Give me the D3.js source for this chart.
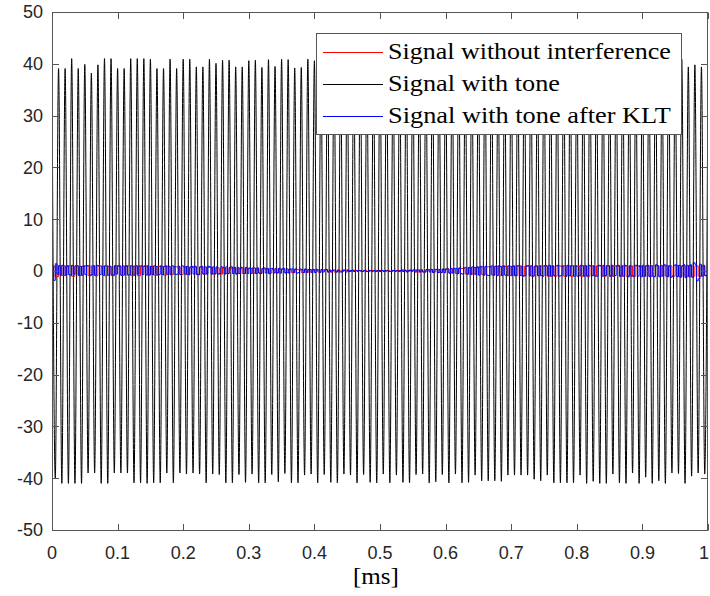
<!DOCTYPE html>
<html>
<head>
<meta charset="utf-8">
<script src="https://cdn.jsdelivr.net/npm/d3@7/dist/d3.min.js"></script>
<style>
  html, body { margin: 0; padding: 0; background: #fff; }
  svg { display: block; }
</style>
</head>
<body>
<svg id="chart" width="710" height="596"></svg>
<script>
// ---------------- DATA ----------------
const xTicks = [0, 0.1, 0.2, 0.3, 0.4, 0.5, 0.6, 0.7, 0.8, 0.9, 1];
const xTickLabels = ["0", "0.1", "0.2", "0.3", "0.4", "0.5", "0.6", "0.7", "0.8", "0.9", "1"];
const yTicks = [-50, -40, -30, -20, -10, 0, 10, 20, 30, 40, 50];
const yTickLabels = ["-50", "-40", "-30", "-20", "-10", "0", "10", "20", "30", "40", "50"];
const xLabel = "[ms]";
const seriesNames = ["Signal without interference", "Signal with tone", "Signal with tone after KLT"];

// Tone: one maximum per cycle (cycle period 0.01 ms), max at start of cycle, min at mid-cycle
const tonePeriod = 0.01;
const tonePeaks = [
  39.1, 39.1, 39.1, 41.0, 39.1, 39.9, 38.2, 39.8, 41.0, 41.0,
  39.1, 39.1, 41.0, 41.0, 41.0, 40.9, 39.1, 39.1, 40.9, 39.1,
  40.9, 40.9, 39.4, 39.4, 40.9, 40.1, 40.7, 40.7, 39.4, 39.4,
  40.6, 40.7, 39.3, 40.8, 39.5, 40.9, 40.8, 39.2, 39.3, 40.9,
  40.6, 39.4, 40.9, 40.9, 39.2, 40.7, 39.9, 40.8, 39.3, 39.4,
  40.9, 40.9, 39.2, 39.6, 40.8, 40.9, 39.3, 40.1, 40.8, 39.4,
  39.2, 40.9, 40.8, 39.3, 40.9, 39.4, 40.7, 40.9, 39.2, 39.5,
  40.9, 39.3, 40.8, 40.6, 39.2, 40.9, 39.5, 40.9, 40.8, 39.3,
  39.2, 40.9, 40.9, 39.4, 40.7, 39.2, 40.9, 40.8, 39.3, 39.4,
  40.9, 39.6, 40.8, 39.2, 40.9, 39.3, 40.9, 39.4, 39.8, 39.4,
  40.7
];
const toneTroughs = [
  -40.0, -41.0, -41.0, -41.0, -41.0, -39.0, -39.0, -41.0, -41.0, -39.0,
  -39.0, -39.0, -40.9, -40.9, -41.0, -40.9, -40.9, -39.0, -40.9, -39.0,
  -39.2, -39.0, -39.2, -40.9, -39.2, -39.3, -40.9, -40.9, -39.3, -40.8,
  -39.2, -40.9, -40.9, -39.3, -40.7, -39.1, -40.9, -40.9, -39.4, -39.2,
  -40.9, -39.3, -40.8, -40.9, -39.2, -39.4, -40.9, -39.3, -40.8, -40.9,
  -39.2, -40.9, -39.4, -40.8, -40.9, -39.3, -39.2, -40.9, -40.7, -39.3,
  -40.9, -39.2, -40.9, -40.8, -39.4, -40.5, -40.5, -40.5, -40.6, -39.4,
  -39.4, -39.4, -39.4, -40.2, -40.5, -39.4, -40.9, -40.9, -40.9, -40.9,
  -39.4, -41.0, -40.6, -41.0, -41.0, -39.2, -40.9, -41.0, -39.0, -41.0,
  -39.8, -41.0, -40.5, -41.0, -39.0, -39.1, -41.0, -39.6, -39.0, -39.2
];

// Clean baseband signal, one level per 0.005 ms step
const cleanStep = 0.005;
const cleanSignal = [
  0.9, -1.1, 1.0, -0.9, 0.9, 1.0, -1.0, 1.0, -0.9, 0.9,
  1.0, -0.9, 1.0, -0.9, 1.0, 0.9, -0.9, 0.9, -0.9, 1.0,
  1.0, -0.9, 0.9, 1.0, -0.9, 1.0, -0.9, 0.9, 1.0, -0.8,
  0.9, -0.8, 0.9, 0.8, -0.8, 0.9, -0.7, 0.8, 0.8, -0.7,
  0.8, -0.7, 0.7, 0.8, -0.7, 0.7, -0.6, 0.7, 0.7, -0.6,
  0.6, -0.6, 0.6, -0.5, 0.5, 0.6, -0.5, 0.5, -0.5, 0.4,
  0.5, -0.4, 0.4, -0.4, 0.4, 0.4, -0.4, 0.3, -0.3, 0.4,
  0.3, -0.3, 0.3, -0.3, 0.3, 0.2, -0.3, 0.2, -0.2, 0.2,
  0.2, -0.2, 0.2, 0.2, -0.2, 0.1, -0.2, 0.1, -0.1, 0.2,
  0.1, -0.1, 0.1, 0.1, -0.1, 0.1, -0.1, 0.1, 0.1, -0.1,
  0.1, -0.1, 0.1, -0.1, 0.1, 0.1, -0.1, 0.2, -0.1, 0.1,
  0.2, -0.2, 0.2, -0.2, 0.2, 0.3, -0.2, 0.3, -0.3, 0.3,
  0.4, -0.4, 0.4, -0.5, 0.5, 0.5, -0.6, 0.6, -0.6, 0.7,
  0.7, -0.7, 0.8, 0.8, -0.8, 0.9, -0.8, 0.9, 0.9, -0.9,
  0.9, -0.9, 1.0, -0.9, 0.9, 1.0, -1.0, 0.9, -0.9, 1.0,
  1.0, -1.0, 0.9, -1.0, 1.0, 0.9, -1.0, 1.0, -1.0, 1.0,
  0.9, -1.0, 1.0, -1.0, 1.0, -0.9, 1.0, 1.0, -1.0, 1.0,
  -1.0, 1.0, 0.9, -1.0, 1.0, -1.0, 1.0, -1.0, 1.0, 0.9,
  -1.0, 1.0, -1.0, 1.0, 1.0, -1.0, 1.0, -1.0, 1.0, -1.0,
  1.0, -1.0, 1.0, -1.0, 1.0, -1.0, 1.0, -1.0, 1.0, -0.9
];
// KLT output, one level per 0.0025 ms step
const kltStep = 0.0025;
const kltSignal = [
  1.0, -1.8, 1.4, -0.6, 1.0, -0.8, 1.1, 1.0, -0.8, 1.0, -0.7, -0.8, 1.1, -0.6, 1.0, 1.0, -0.8, 0.9, -0.8, 1.0,
  -0.7, 1.0, 1.0, -0.8, -0.7, 1.0, -0.8, 1.1, 1.0, -0.7, 0.9, -0.8, 1.0, 1.0, -0.8, 0.9, -0.7, -0.8, 1.0, -0.6,
  1.0, 0.9, -0.8, 1.0, -0.7, 1.0, -0.8, -0.7, 1.0, 0.9, -0.8, 1.0, -0.6, 1.0, 1.0, -0.7, 0.9, -0.8, 1.0, -0.7,
  0.9, -0.7, 1.0, 0.9, -0.8, -0.7, 1.0, -0.7, 0.9, 1.0, -0.6, 0.9, -0.7, 1.0, 0.9, -0.7, -0.6, 0.9, -0.7, 1.0,
  0.9, -0.6, 0.9, -0.7, 0.8, 0.9, -0.6, 0.9, -0.6, -0.7, 0.8, 0.9, -0.6, 0.8, -0.6, 0.9, 0.8, -0.6, 0.8, -0.5,
  0.8, -0.6, -0.5, 0.8, 0.7, -0.6, 0.8, -0.5, 0.7, 0.8, -0.5, 0.7, -0.6, 0.7, -0.5, 0.7, 0.6, -0.5, 0.7, -0.5,
  0.6, -0.5, 0.6, 0.6, -0.5, 0.6, -0.4, -0.5, 0.5, 0.6, -0.4, 0.5, -0.5, 0.5, 0.5, -0.4, 0.5, -0.4, 0.5, -0.4,
  0.4, 0.5, -0.4, 0.4, -0.4, 0.4, 0.4, -0.3, 0.4, -0.4, -0.3, 0.4, 0.3, -0.3, 0.4, -0.3, 0.3, 0.3, -0.3, 0.3,
  -0.3, 0.3, 0.2, -0.3, 0.3, -0.2, 0.2, 0.3, -0.2, 0.2, -0.2, 0.2, 0.2, -0.2, 0.2, -0.2, -0.2, 0.2, 0.1, -0.2,
  0.2, -0.1, 0.1, 0.2, -0.1, 0.1, -0.1, 0.1, 0.1, -0.1, 0.1, -0.1, -0.1, 0.1, 0.1, -0.1, 0.1, -0.1, 0.1, 0.1,
  -0.1, 0.1, -0.1, 0.1, 0.1, -0.1, -0.1, 0.1, 0.1, -0.1, 0.1, -0.1, 0.1, 0.2, -0.1, 0.1, -0.2, 0.1, 0.2, -0.1,
  0.2, -0.2, 0.2, 0.2, -0.2, 0.2, -0.2, -0.2, 0.3, 0.2, -0.2, 0.3, -0.3, 0.3, 0.3, -0.3, 0.3, -0.3, 0.4, -0.3,
  0.4, 0.4, -0.4, 0.5, -0.4, 0.5, 0.5, -0.5, 0.6, -0.5, -0.6, 0.6, 0.7, -0.6, 0.7, -0.7, 0.8, 0.7, -0.7, 0.8,
  -0.8, 0.9, 0.8, -0.8, 0.9, -0.8, -0.9, 0.9, 1.0, -0.8, 0.9, -0.9, 1.0, 0.9, -0.9, 1.0, -0.8, -0.9, 1.0, 0.9,
  -0.9, 1.0, -0.9, 1.0, 1.0, -0.9, 0.9, -1.0, -0.9, 1.0, 1.0, -0.9, 1.0, -1.0, 0.9, 1.0, -0.9, 1.0, -0.9, -1.0,
  1.0, 1.0, -0.9, 1.1, -1.0, 1.0, -0.9, 1.0, 1.1, -1.0, -0.9, 1.0, 1.0, -1.0, 1.1, -0.9, 1.0, 1.0, -1.0, 1.0,
  -1.0, -0.9, 1.1, 1.0, -1.0, 1.0, -1.0, 1.1, 1.0, -0.9, 1.0, -1.0, -1.0, 1.1, 1.0, -1.0, 1.1, -0.9, 1.0, 1.0,
  -1.0, 1.1, -1.0, -0.9, 1.0, 1.1, -1.0, 1.0, -1.0, 1.1, 1.0, -1.1, 1.0, -1.0, -1.0, 1.1, 1.1, -1.0, 1.0, -1.1,
  1.1, -1.0, 1.0, 1.1, -1.1, 1.0, -1.0, -1.1, 1.2, 1.0, -1.1, 1.1, -1.0, 1.2, 1.1, -1.1, 1.0, -1.2, -1.0, 1.1,
  1.2, -1.1, 1.1, -1.2, 1.0, 1.2, -1.3, 1.1, -1.1, 1.2, -1.2, 1.6, 1.3, -1.9, -1.5, 1.3, -1.0, 1.1, -0.9, -0.8
];

// ---------------- LAYOUT ----------------
const svg = d3.select("#chart");
const W = 710, H = 596;
const m = { left: 52, right: 2, top: 12, bottom: 66 };
const x = d3.scaleLinear().domain([0, 1]).range([m.left, W - m.right]);
const y = d3.scaleLinear().domain([-50, 50]).range([H - m.bottom, m.top]);
const axisColor = "#262626";

svg.append("rect").attr("width", W).attr("height", H).attr("fill", "#fff");

svg.append("defs").append("clipPath").attr("id", "clip")
  .append("rect").attr("x", m.left).attr("y", m.top)
  .attr("width", W - m.left - m.right).attr("height", H - m.top - m.bottom);

// Tone points
const tonePts = [];
tonePeaks.forEach((v, k) => {
  tonePts.push([k * tonePeriod, v]);
  if (k < toneTroughs.length) tonePts.push([(k + 0.5) * tonePeriod, toneTroughs[k]]);
});
const toneLine = d3.line().x(d => x(d[0])).y(d => y(d[1])).curve(d3.curveMonotoneX);

function stepPoints(arr, step) {
  const pts = arr.map((v, i) => [i * step, v]);
  pts.push([arr.length * step, arr[arr.length - 1]]);
  return pts;
}
const stepLine = d3.line().x(d => x(d[0])).y(d => y(d[1])).curve(d3.curveStepAfter);

const plot = svg.append("g").attr("clip-path", "url(#clip)");
plot.append("path").attr("d", toneLine(tonePts))
  .attr("fill", "none").attr("stroke", "#000").attr("stroke-width", 1);
plot.append("path").attr("d", stepLine(stepPoints(cleanSignal, cleanStep)))
  .attr("fill", "none").attr("stroke", "#ff0000").attr("stroke-width", 1);
plot.append("path").attr("d", stepLine(stepPoints(kltSignal, kltStep)))
  .attr("fill", "none").attr("stroke", "#0000ff").attr("stroke-width", 1);

// ---------------- AXES ----------------
const tickLen = 6.5;
const tickFont = "'Liberation Sans', Arial, Helvetica, sans-serif";
const axG = svg.append("g").attr("stroke", "#555").attr("stroke-width", 1).attr("fill", "none");
const L = m.left + 0.5, R = W - m.right - 0.5, T = m.top + 0.5, B = H - m.bottom + 0.5;
axG.append("rect").attr("x", L).attr("y", T).attr("width", R - L).attr("height", B - T);

xTicks.forEach(t => {
  const px = Math.round(x(t)) + 0.5;
  axG.append("line").attr("x1", px).attr("x2", px).attr("y1", B).attr("y2", B - tickLen);
  axG.append("line").attr("x1", px).attr("x2", px).attr("y1", T).attr("y2", T + tickLen);
});
yTicks.forEach(t => {
  const py = Math.round(y(t)) + 0.5;
  axG.append("line").attr("x1", L).attr("x2", L + tickLen).attr("y1", py).attr("y2", py);
  axG.append("line").attr("x1", R).attr("x2", R - tickLen).attr("y1", py).attr("y2", py);
});

svg.append("g").selectAll("text").data(xTicks).join("text")
  .attr("x", d => d === 1 ? W - 1 : x(d)).attr("y", 559)
  .attr("text-anchor", d => d === 1 ? "end" : "middle")
  .attr("font-family", tickFont).attr("font-size", 18).attr("fill", axisColor)
  .text((d, i) => xTickLabels[i]);

svg.append("g").selectAll("text").data(yTicks).join("text")
  .attr("x", 43).attr("y", d => y(d)).attr("dy", "0.36em")
  .attr("text-anchor", "end")
  .attr("font-family", tickFont).attr("font-size", 18).attr("fill", axisColor)
  .text((d, i) => yTickLabels[i]);

// Serif (LaTeX-like) text, horizontally stretched to match target width
const serif = "'Liberation Serif', 'Times New Roman', serif";
function serifText(parent, str, x0, yb, targetW, anchor) {
  const t = parent.append("text").attr("font-family", serif).attr("font-size", 23)
    .attr("fill", "#000").text(str);
  const w = t.node().getComputedTextLength();
  const s = targetW / w;
  const left = anchor === "middle" ? x0 - targetW / 2 : x0;
  t.attr("transform", `translate(${left},${yb}) scale(${s},1)`);
  return t;
}

serifText(svg, xLabel, 376, 584, 46, "middle");

// ---------------- LEGEND ----------------
const leg = svg.append("g");
leg.append("rect").attr("x", 316.5).attr("y", 33.5).attr("width", 365).attr("height", 101)
  .attr("fill", "#fff").attr("stroke", "#555").attr("stroke-width", 1);
const legColors = ["#ff0000", "#000000", "#0000ff"];
const legY = [52.5, 84.5, 116.5];
const legW = [283, 172, 283];
seriesNames.forEach((name, i) => {
  leg.append("line").attr("x1", 323).attr("x2", 383).attr("y1", legY[i]).attr("y2", legY[i])
    .attr("stroke", legColors[i]).attr("stroke-width", 1);
  serifText(leg, name, 388, legY[i] + 6.5, legW[i], "start");
});
</script>
</body>
</html>
